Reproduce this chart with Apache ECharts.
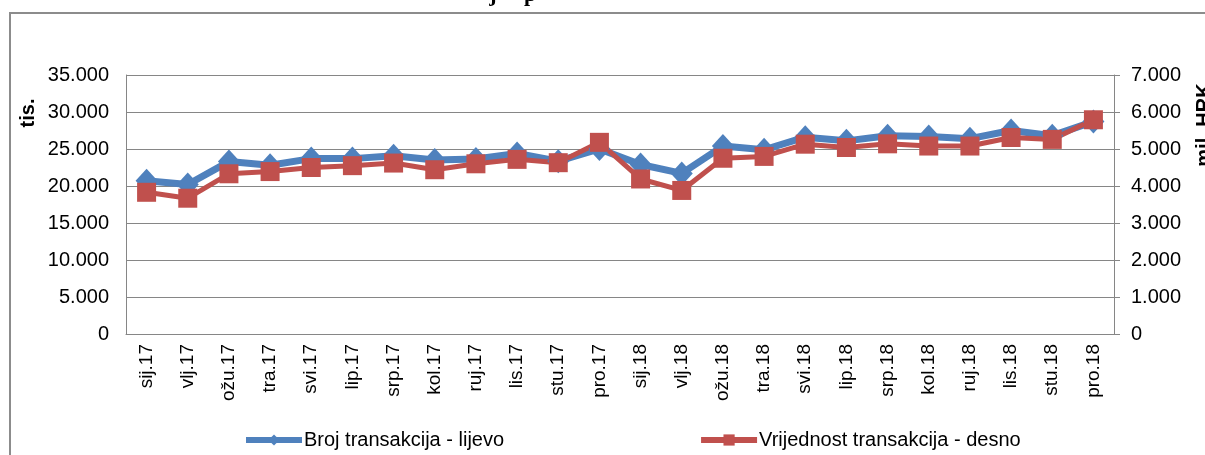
<!DOCTYPE html>
<html>
<head>
<meta charset="utf-8">
<script src="https://cdn.jsdelivr.net/npm/echarts@6/dist/echarts.min.js"></script>
<style>html,body{margin:0;padding:0;background:#fff;}#c{width:1205px;height:455px;}</style>
</head>
<body>
<div id="c"></div>
<script>
const categories = ['sij.17','vlj.17','ožu.17','tra.17','svi.17','lip.17','srp.17','kol.17','ruj.17','lis.17','stu.17','pro.17',
  'sij.18','vlj.18','ožu.18','tra.18','svi.18','lip.18','srp.18','kol.18','ruj.18','lis.18','stu.18','pro.18'];
const brojTransakcija = [20700,20200,23300,22800,23700,23700,24100,23500,23650,24400,23350,25000,
  22900,21700,25400,24900,26600,26100,26800,26700,26400,27500,26800,28700];
const vrijednostTransakcija = [3830,3670,4330,4390,4500,4550,4620,4440,4600,4720,4630,5180,
  4190,3880,4750,4800,5130,5040,5140,5080,5080,5310,5260,5790];
const leftTicks = {min:0, max:35000, interval:5000};
const rightTicks = {min:0, max:7000, interval:1000};
const seriesNames = ['Broj transakcija - lijevo','Vrijednost transakcija - desno'];

const fmt = v => v === 0 ? '0' : (v/1000).toFixed(3);
const FONT = 'Liberation Sans';
const chart = echarts.init(document.getElementById('c'), null, {renderer:'canvas'});
chart.setOption({
  animation:false,
  backgroundColor:'#fff',
  textStyle:{fontFamily:FONT},
  grid:{left:126, right:91, top:75, bottom:121, containLabel:false},
  legend:{
    left:238, top:425, itemWidth:56, itemHeight:14, itemGap:194,
    lineStyle:{width:6},
    textStyle:{fontFamily:FONT, fontSize:20, color:'#000', padding:[0,0,0,-3]},
    data:seriesNames
  },
  xAxis:{
    type:'category', data:categories, boundaryGap:true,
    axisLine:{lineStyle:{color:'#868686', width:1}},
    axisTick:{show:false},
    axisLabel:{interval:0, rotate:90, margin:10, fontSize:19, color:'#000', fontFamily:FONT}
  },
  yAxis:[
    {type:'value', min:leftTicks.min, max:leftTicks.max, interval:leftTicks.interval, position:'left',
      axisLine:{show:true, lineStyle:{color:'#868686'}}, axisTick:{show:false},
      splitLine:{show:true, lineStyle:{color:'#868686', width:1}},
      axisLabel:{formatter:fmt, fontSize:20, color:'#000', margin:17, fontFamily:FONT}},
    {type:'value', min:rightTicks.min, max:rightTicks.max, interval:rightTicks.interval, position:'right',
      axisLine:{show:true, lineStyle:{color:'#868686'}},
      axisTick:{show:true, inside:false, length:6, lineStyle:{color:'#868686'}},
      splitLine:{show:false},
      axisLabel:{formatter:fmt, fontSize:20, color:'#000', margin:17, fontFamily:FONT}}
  ],
  series:[
    {name:seriesNames[0], type:'line', yAxisIndex:0, data:brojTransakcija,
      symbol:'diamond', symbolSize:[22,24], showAllSymbol:true,
      lineStyle:{color:'#4F81BD', width:7}, itemStyle:{color:'#4F81BD'}},
    {name:seriesNames[1], type:'line', yAxisIndex:1, data:vrijednostTransakcija,
      symbol:'rect', symbolSize:19, showAllSymbol:true,
      lineStyle:{color:'#C0504D', width:5}, itemStyle:{color:'#C0504D'}}
  ],
  graphic:[
    {type:'rect', shape:{x:10, y:13, width:1400, height:700}, style:{fill:null, stroke:'#8c8c8c', lineWidth:2}, silent:true},
    {type:'text', x:493, y:6, style:{text:'j', font:'bold 22px "Liberation Serif"', fill:'#000', align:'center', verticalAlign:'bottom'}},
    {type:'text', x:530, y:6, style:{text:'p', font:'bold 22px "Liberation Serif"', fill:'#000', align:'center', verticalAlign:'bottom'}},
    {type:'text', x:28, y:113, rotation:Math.PI/2, style:{text:'tis.', font:'bold 20px "Liberation Sans"', fill:'#000', align:'center', verticalAlign:'middle'}},
    {type:'text', x:1204, y:125, rotation:Math.PI/2, style:{text:'mil. HRK', font:'bold 20px "Liberation Sans"', fill:'#000', align:'center', verticalAlign:'middle'}}
  ]
});
</script>
</body>
</html>
